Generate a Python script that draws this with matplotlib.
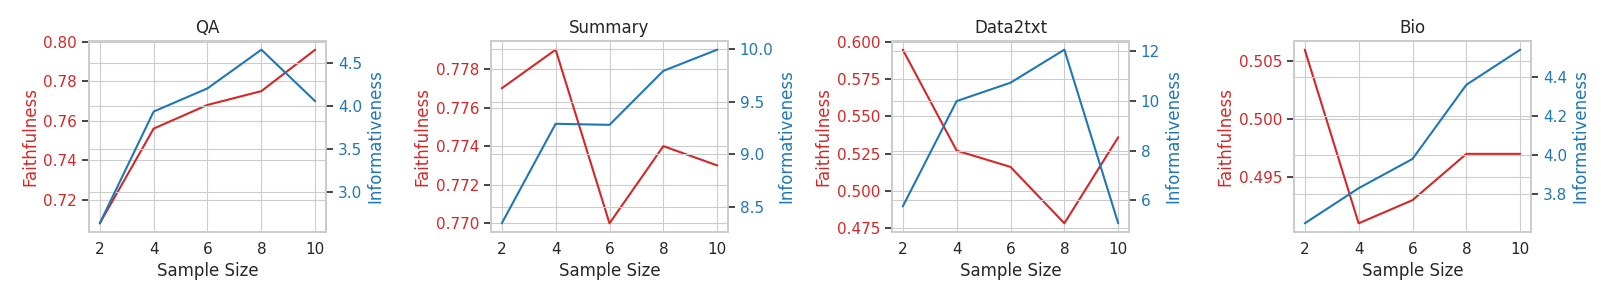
import matplotlib
matplotlib.use("Agg")
import matplotlib.pyplot as plt
import seaborn as sns

sns.set_style("whitegrid")
plt.rcParams["font.family"] = ["DejaVu Sans"]

sample_sizes = [2, 4, 6, 8, 10]
tasks = ["QA", "Summary", "Data2txt", "Bio"]

faith_qa = [0.708, 0.756, 0.768, 0.775, 0.796]
faith_summary = [0.777, 0.779, 0.770, 0.774, 0.773]
faith_data2txt = [0.595, 0.527, 0.516, 0.478, 0.536]
faith_bio = [0.506, 0.491, 0.493, 0.497, 0.497]

info_qa = [2.63, 3.93, 4.20, 4.65, 4.05]
info_summary = [8.35, 9.29, 9.28, 9.79, 9.99]
info_data2txt = [5.76, 10.0, 10.74, 12.07, 5.08]
info_bio = [3.65, 3.83, 3.98, 4.36, 4.54]

faith = [faith_qa, faith_summary, faith_data2txt, faith_bio]
info = [info_qa, info_summary, info_data2txt, info_bio]

RED = "#d62728"
BLUE = "#1f77b4"

fig = plt.figure(figsize=(16.11, 3.02), dpi=100)
lefts = [89, 491, 892, 1294]
W, H = 1611.0, 302.0

for i, task in enumerate(tasks):
    ax = fig.add_axes([lefts[i] / W, 70 / H, 237 / W, 191 / H])
    ax.plot(sample_sizes, faith[i], color=RED, lw=1.5)
    ax.set_xticks(sample_sizes)
    ax.set_xlabel("Sample Size", fontsize=12)
    ax.set_ylabel("Faithfulness", color=RED, fontsize=12, labelpad=3)
    ax.set_title(task, fontsize=12)
    ax.tick_params(axis="y", colors=RED, labelsize=11, left=True, length=5,
                   width=1.2)
    ax.tick_params(axis="y", color="#262626")
    ax.tick_params(axis="x", labelsize=11, colors="#262626")
    for s in ax.spines.values():
        s.set_color("#cccccc")
        s.set_linewidth(1.25)

    ax2 = ax.twinx()
    ax2.plot(sample_sizes, info[i], color=BLUE, lw=1.5)
    ax2.set_ylabel("Informativeness", color=BLUE, fontsize=12, labelpad=3)
    ax2.tick_params(axis="y", colors=BLUE, labelsize=11, right=True, length=5,
                    width=1.2)
    ax2.tick_params(axis="y", color="#262626")
    for s in ax2.spines.values():
        s.set_color("#cccccc")
        s.set_linewidth(1.25)

fig.savefig("out.png", dpi=100)
